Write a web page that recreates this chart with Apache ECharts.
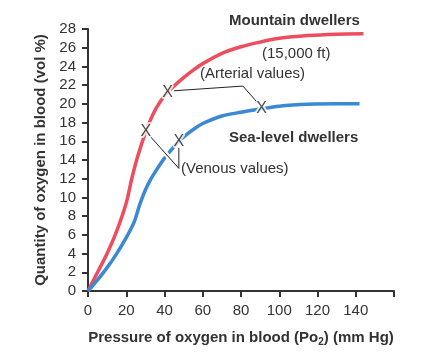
<!DOCTYPE html>
<html>
<head>
<meta charset="utf-8">
<script src="https://cdn.jsdelivr.net/npm/echarts@6/dist/echarts.min.js"></script>
<style>html,body{margin:0;padding:0;background:#fff}#c{width:442px;height:353px}</style>
</head>
<body>
<div id="c"></div>
<script>
// Mountain dwellers (15,000 ft) curve
const mountainP = [0, 5, 10, 15, 20, 23, 26, 30, 34, 38, 42, 46, 50, 55, 60, 70, 80, 90, 100, 115, 130, 144];
const mountainO2 = [0, 2.0, 4.0, 6.4, 9.4, 12.1, 14.4, 16.9, 18.9, 20.3, 21.3, 22.1, 22.8, 23.6, 24.3, 25.4, 26.1, 26.6, 27.0, 27.3, 27.45, 27.5];
// Sea-level dwellers curve
const seaP = [0, 5, 10, 15, 20, 24, 27, 30, 33, 36, 40, 44, 48, 52, 56, 60, 70, 80, 90, 100, 115, 130, 142];
const seaO2 = [0, 1.2, 2.5, 4.0, 5.7, 7.3, 9.2, 10.8, 12.0, 13.0, 14.2, 15.2, 16.1, 16.8, 17.4, 17.9, 18.7, 19.1, 19.45, 19.75, 19.95, 20.0, 20.0];
// marked points (X)
const arterialPts = [[41.6, 21.2], [90.7, 19.45]];
const venousPts = [[30.3, 17.05], [47.5, 16.0]];
// leader lines (data coordinates)
const arterialLeader = [[45.0, 21.4], [81.0, 21.9], [89.2, 20.0]];
const venousLeaderA = [[32.2, 16.6], [47.5, 13.1]];
const venousLeaderB = [[47.5, 15.3], [47.5, 13.1]];
// ticks
const xTicks = {min: 0, max: 160, interval: 20};
const yTicks = {min: 0, max: 28, interval: 2};

const zip = (a, b) => a.map((v, i) => [v, b[i]]);
const font = 'Liberation Sans, Arial, Helvetica, sans-serif';
const chart = echarts.init(document.getElementById('c'));

function leader(data) {
  return [
    {type: 'line', data, symbol: 'none', z: 3, silent: true, animation: false,
     lineStyle: {color: '#fff', width: 5}},
    {type: 'line', data, symbol: 'none', z: 4, silent: true, animation: false,
     lineStyle: {color: '#222', width: 1}}
  ];
}
function marks(data) {
  return {type: 'scatter', data, symbolSize: 0, z: 6, silent: true, animation: false,
    label: {show: true, position: 'inside', formatter: 'X', fontFamily: font, fontSize: 16,
      color: '#222', textBorderColor: '#fff', textBorderWidth: 4}};
}

chart.setOption({
  animation: false,
  grid: {left: 88, right: 48, top: 29, bottom: 62},
  xAxis: {
    type: 'value', min: xTicks.min, max: xTicks.max, interval: xTicks.interval,
    splitLine: {show: false},
    axisLine: {lineStyle: {color: '#333', width: 2}},
    axisTick: {show: true, length: 6, lineStyle: {color: '#333', width: 2}},
    axisLabel: {color: '#333', fontSize: 15, fontFamily: font, margin: 12,
      formatter: v => v === 160 ? '' : String(v)},
    name: '{b|Pressure of oxygen in blood (Po}{s|2}{b|) (mm Hg)}',
    nameLocation: 'middle', nameGap: 38,
    nameTextStyle: {rich: {
      b: {fontSize: 15, fontWeight: 'bold', color: '#333', fontFamily: font},
      s: {fontSize: 10, fontWeight: 'bold', color: '#333', fontFamily: font, padding: [8, 0, 0, 0]}
    }}
  },
  yAxis: {
    type: 'value', min: yTicks.min, max: yTicks.max, interval: yTicks.interval,
    splitLine: {show: false},
    axisLine: {show: true, lineStyle: {color: '#333', width: 2}},
    axisTick: {show: true, length: 6, lineStyle: {color: '#333', width: 2}},
    axisLabel: {color: '#333', fontSize: 15, fontFamily: font, margin: 12},
    name: 'Quantity of oxygen in blood (vol %)',
    nameLocation: 'middle', nameGap: 38,
    nameTextStyle: {fontSize: 15, fontWeight: 'bold', color: '#333', fontFamily: font}
  },
  series: [
    {type: 'line', name: 'Mountain dwellers', data: zip(mountainP, mountainO2), smooth: 0.3,
     symbol: 'none', z: 2, lineStyle: {color: '#ee4d5e', width: 3.5}},
    {type: 'line', name: 'Sea-level dwellers', data: zip(seaP, seaO2), smooth: 0.3,
     symbol: 'none', z: 2, lineStyle: {color: '#3b88d3', width: 3.5}},
    ...leader(arterialLeader),
    ...leader(venousLeaderA),
    ...leader(venousLeaderB),
    marks(arterialPts),
    marks(venousPts)
  ],
  graphic: [
    {type: 'text', left: 229, top: 13, style: {text: 'Mountain dwellers', font: 'bold 15px ' + font, fill: '#333'}},
    {type: 'text', left: 262, top: 46, style: {text: '(15,000 ft)', font: '15px ' + font, fill: '#333'}},
    {type: 'text', left: 200, top: 66, style: {text: '(Arterial values)', font: '15px ' + font, fill: '#333'}},
    {type: 'text', left: 229, top: 130, style: {text: 'Sea-level dwellers', font: 'bold 15px ' + font, fill: '#333'}},
    {type: 'text', left: 181, top: 161, style: {text: '(Venous values)', font: '15px ' + font, fill: '#333'}}
  ]
});
</script>
</body>
</html>
